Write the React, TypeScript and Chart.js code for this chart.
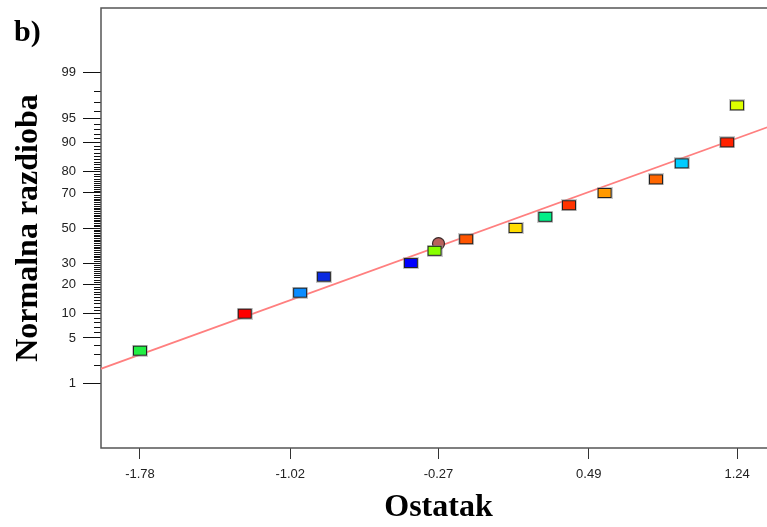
import React, { useEffect, useRef } from 'react';
import { Chart, registerables } from 'chart.js';

Chart.register(...registerables);

// ---- data ----
const residuals = [-1.78, -1.25, -0.97, -0.85, -0.41, -0.29, -0.13, 0.12, 0.27, 0.39, 0.57, 0.83, 0.96, 1.19, 1.24];
const normalProb = [3.33, 10, 16.67, 23.33, 30, 36.67, 43.33, 50, 56.67, 63.33, 70, 76.67, 83.33, 90, 96.67];
const pointColors = [
  '#22ee44', '#ff0000', '#0a8cff', '#0a2ae0', '#0000ff', '#88ff00', '#ff5500', '#ffdd00',
  '#00ee88', '#ff3300', '#ff9900', '#ff6600', '#00ccff', '#ff2200', '#ddff00',
];
const markedResidual = [-0.27];
const markedProb = [40.8];
const refLineResidual = [-2.0, 1.45];
const refLineProb = [1.66, 94.15];
const xTickValues = [-1.78, -1.02, -0.27, 0.49, 1.24];
const xTickLabels = ['-1.78', '-1.02', '-0.27', '0.49', '1.24'];
const yMajorTicks = [1, 5, 10, 20, 30, 50, 70, 80, 90, 95, 99];
const yMinorRange = [1, 99];

// inverse standard normal CDF (Acklam)
function probit(p: number): number {
  const a = [-3.969683028665376e1, 2.209460984245205e2, -2.759285104469687e2, 1.38357751867269e2, -3.066479806614716e1, 2.506628277459239];
  const b = [-5.447609879822406e1, 1.615858368580409e2, -1.556989798598866e2, 6.680131188771972e1, -1.328068155288572e1];
  const c = [-7.784894002430293e-3, -3.223964580411365e-1, -2.400758277161838, -2.549732539343734, 4.374664141464968, 2.938163982698783];
  const d = [7.784695709041462e-3, 3.224671290700398e-1, 2.445134137142996, 3.754408661907416];
  const plow = 0.02425;
  if (p < plow) {
    const q = Math.sqrt(-2 * Math.log(p));
    return (((((c[0] * q + c[1]) * q + c[2]) * q + c[3]) * q + c[4]) * q + c[5]) / ((((d[0] * q + d[1]) * q + d[2]) * q + d[3]) * q + 1);
  }
  if (p <= 1 - plow) {
    const q = p - 0.5;
    const r = q * q;
    return ((((((a[0] * r + a[1]) * r + a[2]) * r + a[3]) * r + a[4]) * r + a[5]) * q) / (((((b[0] * r + b[1]) * r + b[2]) * r + b[3]) * r + b[4]) * r + 1);
  }
  const q = Math.sqrt(-2 * Math.log(1 - p));
  return -(((((c[0] * q + c[1]) * q + c[2]) * q + c[3]) * q + c[4]) * q + c[5]) / ((((d[0] * q + d[1]) * q + d[2]) * q + d[3]) * q + 1);
}

function makeRect(color: string): HTMLCanvasElement {
  const cv = document.createElement('canvas');
  cv.width = 16;
  cv.height = 12;
  const g = cv.getContext('2d')!;
  g.fillStyle = 'rgba(150,150,150,0.5)';
  g.fillRect(0, 0, 16, 12);
  g.fillStyle = '#222';
  g.fillRect(1, 1, 14, 10);
  g.fillStyle = color;
  g.fillRect(2, 2, 12, 8);
  return cv;
}

const boxPlugin = {
  id: 'probBox',
  beforeDatasetsDraw(chart: any) {
    const { ctx, chartArea } = chart;
    const ys = chart.scales.y;
    ctx.save();
    // minor ticks every 1 %
    ctx.strokeStyle = '#111';
    ctx.lineWidth = 1;
    ctx.beginPath();
    for (let p = yMinorRange[0]; p <= yMinorRange[1]; p++) {
      if (yMajorTicks.includes(p)) continue;
      const y = Math.round(ys.getPixelForValue(probit(p / 100))) + 0.5;
      ctx.moveTo(chartArea.left - 7, y);
      ctx.lineTo(chartArea.left, y);
    }
    ctx.stroke();
    // frame
    ctx.strokeStyle = '#555';
    ctx.lineWidth = 1.5;
    ctx.strokeRect(chartArea.left, chartArea.top, chartArea.right - chartArea.left, chartArea.bottom - chartArea.top);
    ctx.restore();
  },
  afterDraw(chart: any) {
    const { ctx } = chart;
    ctx.save();
    ctx.fillStyle = '#000';
    ctx.font = 'bold 30px "Liberation Serif", "Times New Roman", serif';
    ctx.textBaseline = 'alphabetic';
    ctx.textAlign = 'left';
    ctx.fillText('b)', 14, 41);
    ctx.restore();
  },
};

export default function App() {
  const ref = useRef<HTMLCanvasElement>(null);

  useEffect(() => {
    if (!ref.current) return;
    const styles = pointColors.map(makeRect);
    const tickFont = { family: '"Liberation Sans", Arial, sans-serif', size: 13 };
    const titleFont = { family: '"Liberation Serif", "Times New Roman", serif', size: 32, weight: 'bold' as const };

    const chart = new Chart(ref.current, {
      type: 'scatter',
      data: {
        datasets: [
          {
            data: residuals.map((x, i) => ({ x, y: probit(normalProb[i] / 100) })),
            pointStyle: styles as any,
            pointRadius: 7,
            order: 0,
          },
          {
            data: markedResidual.map((x, i) => ({ x, y: probit(markedProb[i] / 100) })),
            pointStyle: 'circle',
            pointRadius: 6,
            backgroundColor: '#b9625c',
            borderColor: '#3a2a2a',
            borderWidth: 1.2,
            order: 1,
          },
          {
            data: refLineResidual.map((x, i) => ({ x, y: probit(refLineProb[i] / 100) })),
            showLine: true,
            borderColor: '#ff7f7f',
            borderWidth: 1.8,
            pointRadius: 0,
            order: 2,
          },
        ],
      },
      options: {
        responsive: false,
        animation: false,
        devicePixelRatio: 1,
        layout: { autoPadding: false, padding: { left: 0, top: 8, right: 14, bottom: 0 } },
        plugins: { legend: { display: false }, tooltip: { enabled: false } },
        scales: {
          x: {
            type: 'linear',
            min: -1.977,
            max: 1.437,
            afterBuildTicks: (s: any) => {
              s.ticks = xTickValues.map((v) => ({ value: v }));
            },
            afterFit: (s: any) => {
              s.height = 79;
              s.paddingLeft = 0;
              s.paddingRight = 0;
            },
            ticks: {
              autoSkip: false,
              maxRotation: 0,
              font: tickFont,
              color: '#222',
              padding: 8,
              callback: (v: any) => {
                const i = xTickValues.findIndex((t) => Math.abs(t - v) < 1e-9);
                return i >= 0 ? xTickLabels[i] : '';
              },
            },
            grid: { drawOnChartArea: false, drawTicks: true, tickLength: 11, color: '#333', tickWidth: 1 },
            border: { display: false },
            title: { display: true, text: 'Ostatak', font: titleFont, color: '#000', padding: { top: 0, bottom: 0 } },
          },
          y: {
            type: 'linear',
            min: probit(0.0005),
            max: probit(0.9995),
            afterBuildTicks: (s: any) => {
              s.ticks = yMajorTicks.map((p) => ({ value: probit(p / 100) }));
            },
            afterFit: (s: any) => {
              s.width = 101;
              s.paddingTop = 0;
              s.paddingBottom = 0;
            },
            ticks: {
              autoSkip: false,
              font: tickFont,
              color: '#222',
              padding: 7,
              callback: (v: any) => {
                const i = yMajorTicks.findIndex((p) => Math.abs(probit(p / 100) - v) < 1e-9);
                return i >= 0 ? String(yMajorTicks[i]) : '';
              },
            },
            grid: { drawOnChartArea: false, drawTicks: true, tickLength: 18, color: '#111', tickWidth: 1 },
            border: { display: false },
            title: { display: true, text: 'Normalna razdioba', font: titleFont, color: '#000', padding: { top: 10, bottom: 0 } },
          },
        },
      },
      plugins: [boxPlugin],
    });
    return () => chart.destroy();
  }, []);

  return (
    <div style={{ position: 'absolute', left: 0, top: 0, width: 767, height: 527, overflow: 'hidden', background: '#fff' }}>
      <canvas ref={ref} width={790} height={527} style={{ display: 'block' }} />
    </div>
  );
}
